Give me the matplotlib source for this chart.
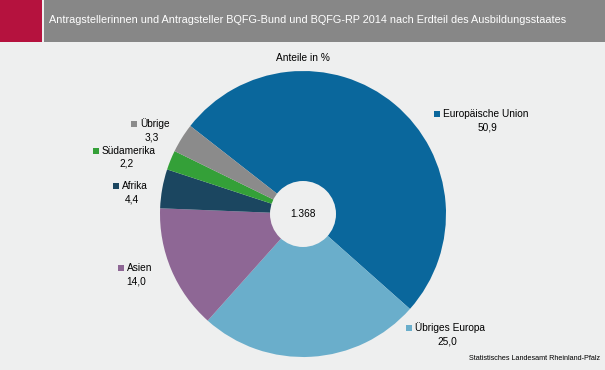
import matplotlib
matplotlib.use("Agg")
import matplotlib.pyplot as plt
from matplotlib.patches import Rectangle, Circle

plt.rcParams['font.family'] = ['Liberation Sans', 'DejaVu Sans']

categories = ["Europäische Union", "Übriges Europa", "Asien", "Afrika", "Südamerika", "Übrige"]
values = [50.9, 25.0, 14.0, 4.4, 2.2, 3.3]
colors = ["#0a679c", "#6aaecb", "#8e6795", "#1b4660", "#34a038", "#8b8b8b"]
total = "1.368"
title = "Antragstellerinnen und Antragsteller BQFG-Bund und BQFG-RP 2014 nach Erdteil des Ausbildungsstaates"
subtitle = "Anteile in %"
source = "Statistisches Landesamt Rheinland-Pfalz"

# label layout in pixel coords (x of marker, y of name line, x-center of value)
label_pos = [(437, 114, 487), (409, 328, 447), (121, 268, 136),
             (116, 186, 132), (96, 151, 126), (134, 124, 152)]

W, H = 605, 370
bg = "#eeefef"
fig = plt.figure(figsize=(W / 100, H / 100), dpi=100, facecolor=bg)
ax = fig.add_axes([0, 0, 1, 1])
ax.set_facecolor(bg)

def Y(y):
    return H - y

cx, cy, r = 303, Y(214), 143
ax.pie(values, colors=colors, startangle=142, counterclock=False,
       center=(cx, cy), radius=r, wedgeprops=dict(lw=0), frame=True)
ax.set_xlim(0, W)
ax.set_ylim(0, H)
ax.axis("off")
ax.set_aspect("equal")

# title bar
ax.add_patch(Rectangle((0, Y(42)), 42, 42, color="#b5123e", lw=0))
ax.add_patch(Rectangle((44, Y(42)), W - 44, 42, color="#878787", lw=0))
ax.text(49, Y(20), title, color="white", fontsize=7.8, va="center", ha="left")

ax.text(303, Y(58), subtitle, fontsize=7.3, ha="center", va="center")

ax.add_patch(Circle((cx, cy), 33, color=bg, lw=0, zorder=5))
ax.text(cx, cy, total, fontsize=7.3, ha="center", va="center", zorder=6)

for cat, val, col, (mx, my, vx) in zip(categories, values, colors, label_pos):
    ax.add_patch(Rectangle((mx - 3, Y(my) - 3), 6, 6, color=col, lw=0))
    ax.text(mx + 6, Y(my), cat, fontsize=7.3, ha="left", va="center")
    ax.text(vx, Y(my + 13), f"{val:.1f}".replace(".", ","), fontsize=7.3,
            ha="center", va="center")

ax.text(600, Y(358), source, fontsize=5.2, ha="right", va="center")

fig.savefig("out.png", dpi=100, facecolor=bg)
